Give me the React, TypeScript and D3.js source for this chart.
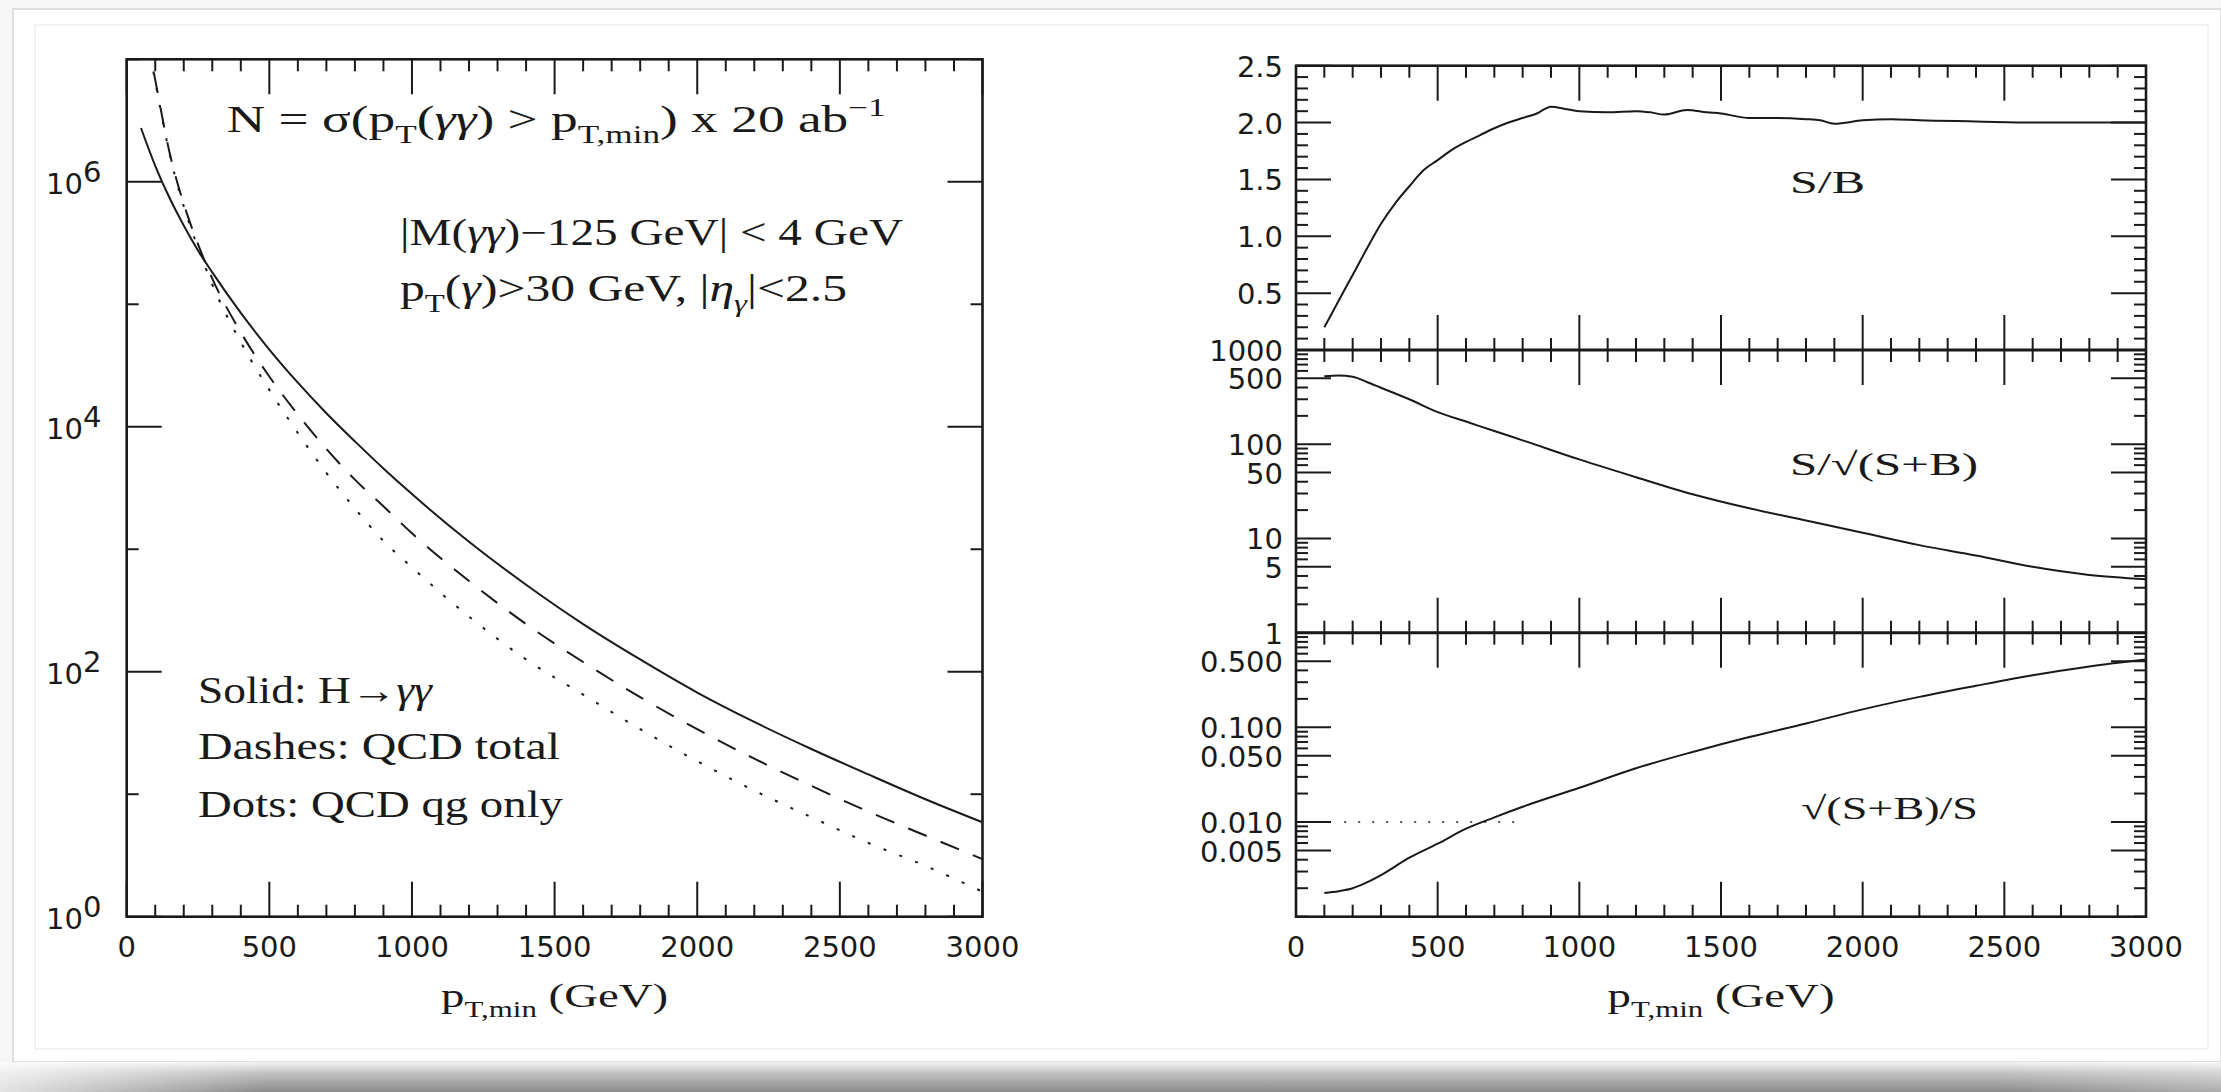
import React from 'react';
import * as d3 from 'd3';

// ---------- Data ----------
const ptGrid = [50, 100, 150, 200, 250, 300, 400, 500, 600, 700, 800, 900, 1000, 1200, 1400, 1600, 1800, 2000, 2200, 2400, 2600, 2800, 3000];
const nHiggs = [2.75e6, 1.35e6, 7.4e5, 4.4e5, 2.75e5, 1.82e5, 8.5e4, 4.27e4, 2.29e4, 1.29e4, 7.6e3, 4.57e3, 2.82e3, 1.15e3, 513, 245, 126, 67.6, 38.9, 23.4, 14.5, 9.1, 5.9];
const nQCDTotal = [2.8e7, 6.8e6, 1.74e6, 6.6e5, 3.1e5, 1.62e5, 5.9e4, 2.57e4, 1.26e4, 6.6e3, 3.7e3, 2.24e3, 1.35e3, 550, 245, 120, 62, 34, 19.5, 11.7, 7.2, 4.6, 2.95];
const nQCDqg = [2.8e7, 6.6e6, 1.7e6, 6.3e5, 2.9e5, 1.45e5, 4.9e4, 2.0e4, 8.9e3, 4.2e3, 2.15e3, 1.17e3, 710, 282, 126, 65, 34, 18.6, 10.7, 6.5, 4.0, 2.6, 1.6];

const ptSB = [100, 150, 200, 250, 300, 350, 400, 450, 500, 550, 600, 650, 700, 750, 800, 850, 900, 950, 1000, 1100, 1200, 1250, 1300, 1380, 1450, 1500, 1600, 1700, 1800, 1850, 1900, 2000, 2100, 2200, 2400, 2600, 2800, 3000];
const sOverB = [0.20, 0.43, 0.66, 0.89, 1.11, 1.29, 1.44, 1.58, 1.67, 1.76, 1.83, 1.89, 1.95, 2.0, 2.04, 2.08, 2.14, 2.12, 2.10, 2.09, 2.10, 2.09, 2.07, 2.11, 2.09, 2.08, 2.04, 2.04, 2.03, 2.02, 1.99, 2.02, 2.03, 2.02, 2.01, 2.0, 2.0, 2.0];

const ptSig = [100, 150, 200, 250, 300, 400, 500, 600, 700, 800, 1000, 1200, 1400, 1600, 1800, 2000, 2200, 2400, 2600, 2800, 3000];
const sOverSqrtSB = [525, 535, 520, 458, 398, 300, 219, 174, 138, 110, 69, 44.7, 29.5, 20.9, 15.5, 11.5, 8.5, 6.6, 5.0, 4.1, 3.7];
const sqrtSBOverS = [0.00178, 0.00186, 0.0020, 0.0023, 0.00275, 0.0042, 0.0059, 0.0085, 0.0112, 0.0145, 0.023, 0.037, 0.055, 0.079, 0.110, 0.155, 0.21, 0.275, 0.355, 0.44, 0.52];

const refLineValue = 0.01;
const refLineRange = [170, 770];

const xTickValues = d3.range(0, 3001, 100);
const xLabelValues = [0, 500, 1000, 1500, 2000, 2500, 3000];
const leftDecades = [0, 1, 2, 3, 4, 5, 6, 7];
const leftLabelExps = [0, 2, 4, 6];
const topPanelTicks = d3.range(0, 2.51, 0.1);
const topPanelLabels = ['0.5', '1.0', '1.5', '2.0', '2.5'];
const midPanelLabels = ['1000', '500', '100', '50', '10', '5', '1'];
const botPanelLabels = ['0.500', '0.100', '0.050', '0.010', '0.005'];

// ---------- Layout ----------
const W = 2221, H = 1092;
const L = { x0: 126.7, x1: 982.5, y0: 59.3, y1: 916.7 };
const R = { x0: 1296, x1: 2146, y0: 65.7, yA: 350, yB: 632.7, y1: 916.7 };
const INK = '#1a1a1a';
const SANS = '"DejaVu Sans", sans-serif';
const SERIF = '"Liberation Serif", "DejaVu Serif", serif';

type Part = { t: string; sub?: boolean; sup?: boolean; it?: boolean };

function Rich({ x, y, size, parts, width, anchor }: { x: number; y: number; size: number; parts: Part[]; width?: number; anchor?: string }) {
  const nodes: any[] = [];
  let shift = 0;
  parts.forEach((p, i) => {
    const target = p.sub ? size * 0.3 : p.sup ? -size * 0.42 : 0;
    const dy = target - shift;
    shift = target;
    nodes.push(
      <tspan key={i} dy={dy} fontSize={p.sub || p.sup ? size * 0.66 : size} fontStyle={p.it ? 'italic' : 'normal'}>{p.t}</tspan>
    );
  });
  return (
    <text x={x} y={y} fontFamily={SERIF} fontSize={size} fill={INK} textAnchor={anchor || 'start'}
      {...(width ? { textLength: width, lengthAdjust: 'spacingAndGlyphs' } : {})}>
      {nodes}
    </text>
  );
}

export default function App() {
  const xL = d3.scaleLinear().domain([0, 3000]).range([L.x0, L.x1]);
  const yL = d3.scaleLog().domain([1, 1e7]).range([L.y1, L.y0]);
  const xR = d3.scaleLinear().domain([0, 3000]).range([R.x0, R.x1]);
  const yTop = d3.scaleLinear().domain([0, 2.5]).range([R.yA, R.y0]);
  const yMid = d3.scaleLog().domain([1, 1000]).range([R.yB, R.yA]);
  const yBot = d3.scaleLog().domain([0.001, 1]).range([R.y1, R.yB]);

  const mkLine = (xs: d3.ScaleLinear<number, number>, ys: any) =>
    d3.line<[number, number]>().x(d => xs(d[0])).y(d => ys(d[1])).curve(d3.curveMonotoneX);

  const lineLeft = mkLine(xL, yL);
  const zip = (a: number[], b: number[]) => a.map((v, i) => [v, b[i]] as [number, number]);

  const MAJ = 35, MIN = 12;
  const tickSW = 2;

  // left plot ticks
  const leftTicks: any[] = [];
  xTickValues.forEach(v => {
    const len = v % 500 === 0 ? MAJ : MIN;
    const x = xL(v);
    leftTicks.push(<line key={'lb' + v} x1={x} x2={x} y1={L.y1} y2={L.y1 - len} />);
    leftTicks.push(<line key={'lt' + v} x1={x} x2={x} y1={L.y0} y2={L.y0 + len} />);
  });
  leftDecades.forEach(d => {
    const len = d % 2 === 0 ? MAJ : MIN;
    const y = yL(Math.pow(10, d));
    leftTicks.push(<line key={'ll' + d} x1={L.x0} x2={L.x0 + len} y1={y} y2={y} />);
    leftTicks.push(<line key={'lr' + d} x1={L.x1} x2={L.x1 - len} y1={y} y2={y} />);
  });

  // right plot ticks
  const rightTicks: any[] = [];
  xTickValues.forEach(v => {
    const len = v % 500 === 0 ? MAJ : MIN;
    const x = xR(v);
    rightTicks.push(<line key={'rt' + v} x1={x} x2={x} y1={R.y0} y2={R.y0 + len} />);
    rightTicks.push(<line key={'ra' + v} x1={x} x2={x} y1={R.yA - len} y2={R.yA + len} />);
    rightTicks.push(<line key={'rb' + v} x1={x} x2={x} y1={R.yB - len} y2={R.yB + len} />);
    rightTicks.push(<line key={'rz' + v} x1={x} x2={x} y1={R.y1} y2={R.y1 - len} />);
  });
  const yTick = (key: string, y: number, len: number) => {
    rightTicks.push(<line key={key + 'l'} x1={R.x0} x2={R.x0 + len} y1={y} y2={y} />);
    rightTicks.push(<line key={key + 'r'} x1={R.x1} x2={R.x1 - len} y1={y} y2={y} />);
  };
  topPanelTicks.forEach((v, i) => {
    const isMaj = i % 5 === 0;
    yTick('tp' + i, yTop(v), isMaj ? MAJ : MIN);
  });
  [0, 1, 2].forEach(d => {
    for (let m = 1; m <= 9; m++) {
      const v = m * Math.pow(10, d);
      const isMaj = m === 1 || m === 5;
      yTick('md' + d + m, yMid(v), isMaj ? MAJ : MIN);
    }
  });
  [-3, -2, -1].forEach(d => {
    for (let m = 1; m <= 9; m++) {
      const v = m * Math.pow(10, d);
      const isMaj = (m === 1 || m === 5) && !(d === -3 && m === 1);
      yTick('bt' + d + m, yBot(v), isMaj ? MAJ : MIN);
    }
  });

  const labelSize = 29;

  return (
    <svg width={W} height={H} viewBox={`0 0 ${W} ${H}`} style={{ position: 'absolute', left: 0, top: 0, display: 'block' }}>
      <defs>
        <linearGradient id="shadowV" x1="0" y1="0" x2="0" y2="1">
          <stop offset="0" stopColor="#f4f4f4" />
          <stop offset="0.35" stopColor="#c4c4c4" />
          <stop offset="1" stopColor="#8a8a8a" />
        </linearGradient>
        <linearGradient id="shadowH" x1="0" y1="0" x2="1" y2="0">
          <stop offset="0" stopColor="#ffffff" stopOpacity="0.75" />
          <stop offset="0.12" stopColor="#ffffff" stopOpacity="0" />
          <stop offset="0.9" stopColor="#ffffff" stopOpacity="0" />
          <stop offset="1" stopColor="#ffffff" stopOpacity="0.3" />
        </linearGradient>
        <clipPath id="clipL"><rect x={L.x0} y={L.y0} width={L.x1 - L.x0} height={L.y1 - L.y0} /></clipPath>
        <clipPath id="clipR"><rect x={R.x0} y={R.y0} width={R.x1 - R.x0} height={R.y1 - R.y0} /></clipPath>
      </defs>

      {/* page / card background */}
      <rect x={0} y={0} width={W} height={H} fill="#f6f6f6" />
      <rect x={13} y={9} width={W - 13} height={1053} fill="#ffffff" stroke="#d6d6d6" strokeWidth={1.5} />
      <rect x={35} y={25} width={2173} height={1024} fill="#ffffff" stroke="#efefef" strokeWidth={1.5} />
      <rect x={0} y={1062} width={W} height={H - 1062} fill="url(#shadowV)" />
      <rect x={0} y={1062} width={W} height={H - 1062} fill="url(#shadowH)" />

      {/* ---------- LEFT PLOT ---------- */}
      <g clipPath="url(#clipL)" fill="none" stroke={INK} strokeWidth={2}>
        <path d={lineLeft(zip(ptGrid, nHiggs)) || ''} />
        <path d={lineLeft(zip(ptGrid, nQCDTotal)) || ''} strokeDasharray="20 15" />
        <path d={lineLeft(zip(ptGrid, nQCDqg)) || ''} strokeDasharray="3 14" />
      </g>
      <g stroke={INK} strokeWidth={tickSW}>{leftTicks}</g>
      <rect x={L.x0} y={L.y0} width={L.x1 - L.x0} height={L.y1 - L.y0} fill="none" stroke={INK} strokeWidth={2.6} />

      {xLabelValues.map(v => (
        <text key={'lxl' + v} x={xL(v)} y={957} textAnchor="middle" fontFamily={SANS} fontSize={labelSize} fill={INK}>{v}</text>
      ))}
      {leftLabelExps.map(e => (
        <text key={'lyl' + e} x={46} y={yL(Math.pow(10, e)) + 12} fontFamily={SANS} fontSize={labelSize} fill={INK}>
          10<tspan dy={-12}>{e}</tspan>
        </text>
      ))}

      <Rich x={226.7} y={132} size={37} width={659} parts={[
        { t: 'N = σ(p' }, { t: 'T', sub: true }, { t: '(' }, { t: 'γγ', it: true }, { t: ') > p' }, { t: 'T,min', sub: true }, { t: ') x 20 ab' }, { t: '−1', sup: true },
      ]} />
      <Rich x={400} y={245} size={37} width={503} parts={[{ t: '|M(' }, { t: 'γγ', it: true }, { t: ')−125 GeV| < 4 GeV' }]} />
      <Rich x={400} y={301} size={37} width={447} parts={[
        { t: 'p' }, { t: 'T', sub: true }, { t: '(' }, { t: 'γ', it: true }, { t: ')>30 GeV, |' }, { t: 'η', it: true }, { t: 'γ', sub: true, it: true }, { t: '|<2.5' },
      ]} />
      <Rich x={198} y={703} size={37} width={234} parts={[{ t: 'Solid: H→' }, { t: 'γγ', it: true }]} />
      <Rich x={198} y={759} size={37} width={362} parts={[{ t: 'Dashes: QCD total' }]} />
      <Rich x={198} y={817} size={37} width={365} parts={[{ t: 'Dots: QCD qg only' }]} />
      <Rich x={(L.x0 + L.x1) / 2} y={1007} size={34} anchor="middle" width={227} parts={[
        { t: 'p' }, { t: 'T,min', sub: true }, { t: ' (GeV)' },
      ]} />

      {/* ---------- RIGHT PLOT ---------- */}
      <g clipPath="url(#clipR)" fill="none" stroke={INK} strokeWidth={2}>
        <path d={mkLine(xR, yTop)(zip(ptSB, sOverB)) || ''} />
        <path d={mkLine(xR, yMid)(zip(ptSig, sOverSqrtSB)) || ''} />
        <path d={mkLine(xR, yBot)(zip(ptSig, sqrtSBOverS)) || ''} />
        <line x1={xR(refLineRange[0])} x2={xR(refLineRange[1])} y1={yBot(refLineValue)} y2={yBot(refLineValue)} strokeWidth={1.6} strokeDasharray="2 12" />
      </g>
      <g stroke={INK} strokeWidth={tickSW}>{rightTicks}</g>
      <rect x={R.x0} y={R.y0} width={R.x1 - R.x0} height={R.y1 - R.y0} fill="none" stroke={INK} strokeWidth={2.6} />
      <line x1={R.x0} x2={R.x1} y1={R.yA} y2={R.yA} stroke={INK} strokeWidth={3} />
      <line x1={R.x0} x2={R.x1} y1={R.yB} y2={R.yB} stroke={INK} strokeWidth={3} />

      {xLabelValues.map(v => (
        <text key={'rxl' + v} x={xR(v)} y={957} textAnchor="middle" fontFamily={SANS} fontSize={labelSize} fill={INK}>{v}</text>
      ))}
      {topPanelLabels.map(s => (
        <text key={'tpl' + s} x={1283} y={yTop(+s) + 11} textAnchor="end" fontFamily={SANS} fontSize={labelSize} fill={INK}>{s}</text>
      ))}
      {midPanelLabels.map(s => (
        <text key={'mpl' + s} x={1283} y={yMid(+s) + 11} textAnchor="end" fontFamily={SANS} fontSize={labelSize} fill={INK}>{s}</text>
      ))}
      {botPanelLabels.map(s => (
        <text key={'bpl' + s} x={1283} y={yBot(+s) + 11} textAnchor="end" fontFamily={SANS} fontSize={labelSize} fill={INK}>{s}</text>
      ))}

      <Rich x={1790} y={193} size={32} width={75} parts={[{ t: 'S/B' }]} />
      <Rich x={1790} y={475} size={32} width={188} parts={[{ t: 'S/√(S+B)' }]} />
      <Rich x={1801} y={819} size={32} width={177} parts={[{ t: '√(S+B)/S' }]} />
      <Rich x={(R.x0 + R.x1) / 2} y={1007} size={34} anchor="middle" width={227} parts={[
        { t: 'p' }, { t: 'T,min', sub: true }, { t: ' (GeV)' },
      ]} />
    </svg>
  );
}
